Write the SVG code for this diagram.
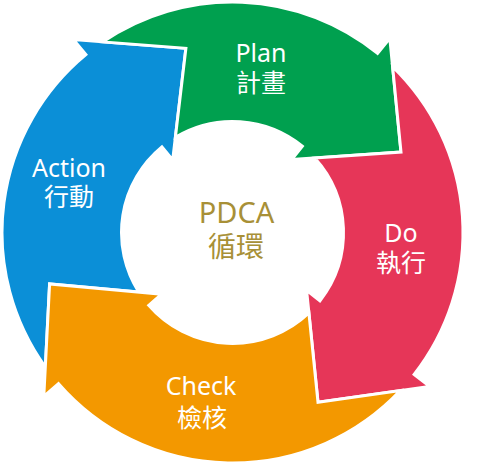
<svg xmlns="http://www.w3.org/2000/svg" width="480" height="474" viewBox="0 0 480 474">
<style>
.seg{stroke:#fff;stroke-width:3;stroke-linejoin:miter;stroke-miterlimit:10}
.lbl{font-family:"Noto Sans","Noto Sans CJK TC",sans-serif;font-size:25px;fill:#fff;text-anchor:middle}
.ctr{font-family:"Noto Sans","Noto Sans CJK TC",sans-serif;fill:#A89037;text-anchor:middle}
</style>
<rect width="480" height="474" fill="#fff"/>
<g id="action">
<path class="seg" fill="#0B8FD7" d="M45.32 367.01 A230.5 230.5 0 0 1 85.88 54.64 L73.5 39.6 L185.9 48.3 L172.7 160 L161.9 146.85 A111 111 0 0 0 138.86 292.11 L49.6 283.9 Z"/>
<text class="lbl" x="69" y="177">Action</text>
<text class="lbl" x="69" y="206">行動</text>
</g>
<g id="plan">
<path class="seg" fill="#00A04F" d="M102.91 41.88 A230.5 230.5 0 0 1 377.56 53.37 L389.8 38.2 L401 152 L291.7 159.5 L302.35 146.24 A111 111 0 0 0 175.38 137.33 L185.9 48.3 Z"/>
<text class="lbl" x="261" y="62">Plan</text>
<text class="lbl" x="261" y="92">計畫</text>
</g>
<g id="do">
<path class="seg" fill="#E63658" d="M392.6 66.68 A230.5 230.5 0 0 1 414.14 374.41 L429.5 386.4 L318 402.2 L306.6 290.4 L319.97 300.84 A111 111 0 0 0 314.71 157.92 L401 152 Z"/>
<text class="lbl" x="401" y="242">Do</text>
<text class="lbl" x="401" y="272">執行</text>
</g>
<g id="check">
<path class="seg" fill="#F39800" d="M400.29 390.54 A230.5 230.5 0 0 1 58.54 383.72 L43.8 396.5 L49.6 283.9 L161.6 294.2 L148.73 305.32 A111 111 0 0 0 308.91 313.02 L318 402.2 Z"/>
<text class="lbl" x="201" y="395">Check</text>
<text class="lbl" x="202" y="427">檢核</text>
</g>
<g id="pdca">
<text class="ctr" x="236.5" y="223" font-size="29">PDCA</text>
<text class="ctr" x="236" y="257" font-size="28">循環</text>
</g>
<g id="connectors"/>
</svg>
